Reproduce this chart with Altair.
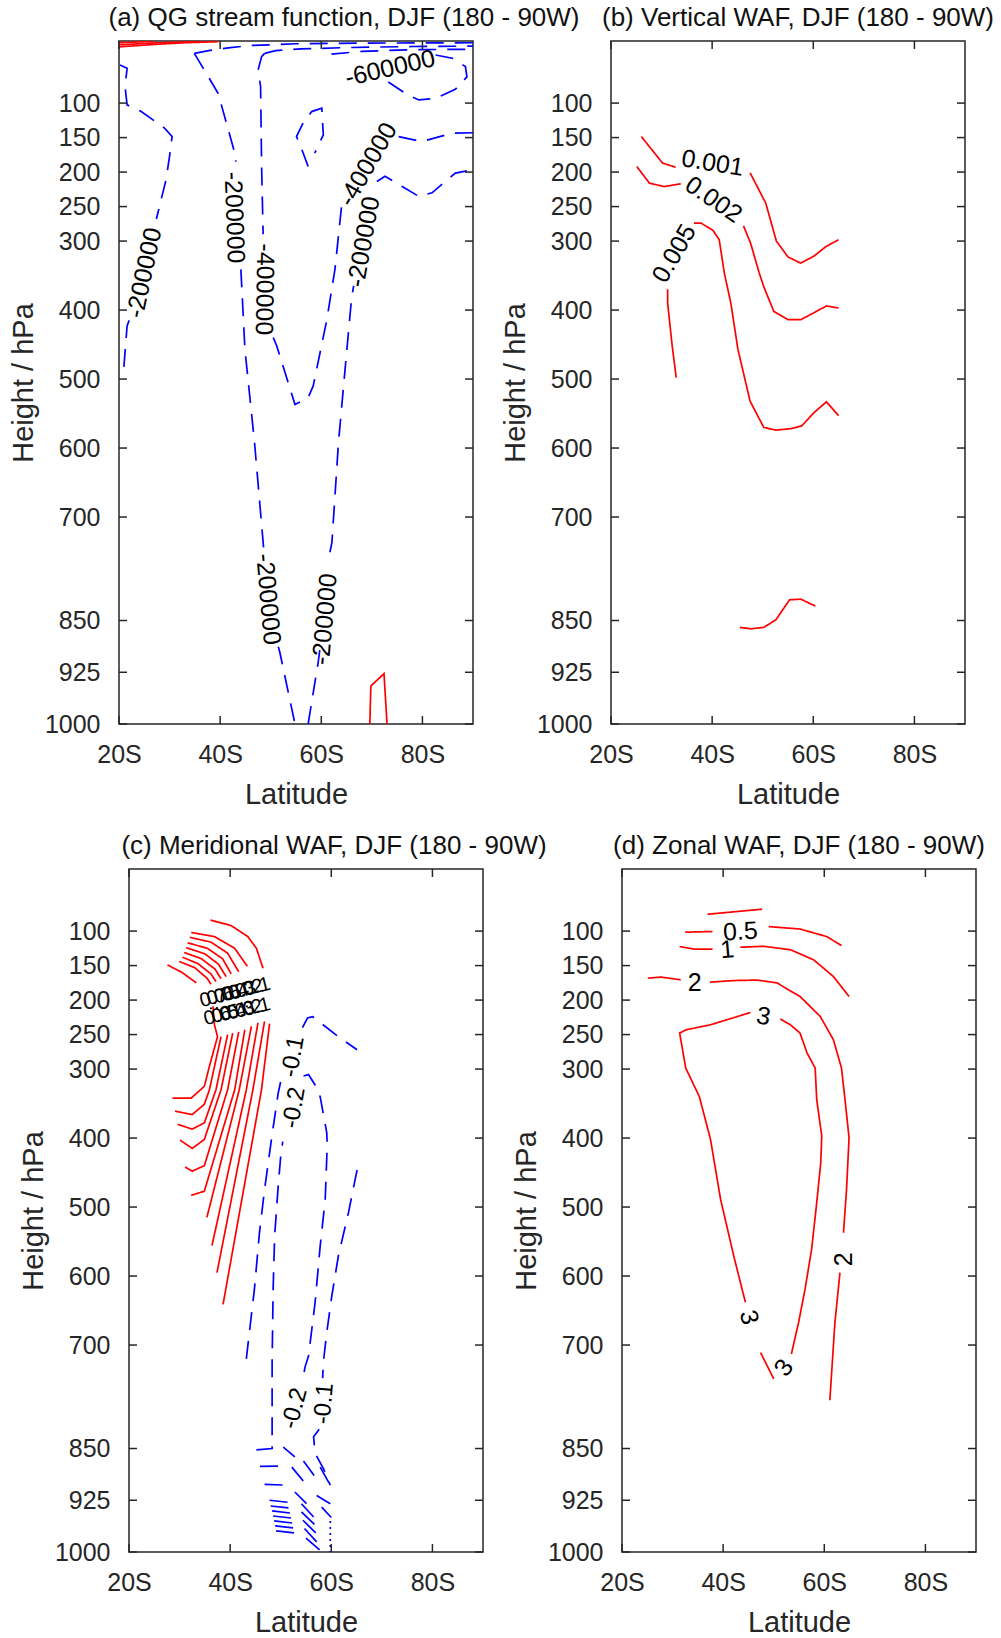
import altair as alt
import pandas as pd

FONT = "Liberation Sans"
AXC = "#262626"
RED = "#ff0000"
BLUE = "#0000ff"
BLACK = "#000000"

LAT_DOMAIN = [20, 90]
P_DOMAIN = [10, 1000]
LAT_TICKS = [20, 40, 60, 80]
P_TICKS = [100, 150, 200, 250, 300, 400, 500, 600, 700, 850, 925, 1000]

W, H = 354, 683

# ---------------- panel (a) QG stream function ----------------
a_red_top_1 = [(20.0, 18.5), (27.0, 15.0), (33.0, 12.5), (39.6, 11.0)]
a_red_top_2 = [(20.0, 15.5), (28.0, 12.5), (36.0, 10.8)]
a_red_top_3 = [(20.0, 12.5), (27.0, 10.5)]
a_red_bottom = [(69.6, 1000), (69.8, 945), (72.4, 927), (73.0, 1000)]
a_top_1 = [(34.9, 27.9), (38.0, 23.5), (42.0, 19.5), (46.2, 16.5), (55.0, 14.0), (70.0, 13.0), (90.0, 12.5)]
a_top_2 = [(48.8, 27.9), (51.0, 24.0), (56.0, 21.5), (65.0, 19.5), (78.0, 18.0), (90.0, 17.5)]
a_top_3 = [(62.0, 29.0), (68.0, 25.0), (78.0, 22.5), (90.0, 22.0)]
a_m200_left_1 = [(20.2, 44.7), (21.6, 49.5), (21.2, 76), (21.6, 102.6), (24.4, 112.3), (29.0, 136.3),
                 (30.5, 148.5), (30.0, 177), (29.3, 211), (27.7, 259), (27.4, 268)]
a_m200_left_2 = [(22.0, 415), (21.6, 423), (20.8, 498)]
a_m200_mid_1 = [(34.9, 27.9), (39.6, 85.7), (42.9, 172.6), (43.1, 185)]
a_m200_mid_2 = [(44.1, 341), (44.9, 457), (46.8, 592), (48.6, 745)]
a_m200_mid_3 = [(51.5, 888), (51.8, 896), (54.8, 1000)]
a_m400_mid_1 = [(48.8, 27.9), (48.2, 32.6), (47.5, 52), (48.0, 76), (48.2, 192), (48.5, 290)]
a_m400_mid_2 = [(50.5, 440), (51.2, 452), (54.8, 537), (57.4, 527), (58.4, 510), (61.1, 414),
                (62.7, 341), (64.0, 250), (64.5, 240)]
a_m400_right = [(75.3, 148.5), (79.9, 155.7), (85.9, 143.6), (90.0, 143.0)]
a_m200_right_1 = [(57.4, 1000), (59.4, 910), (59.7, 893)]
a_m200_right_2 = [(61.7, 751), (62.1, 737), (63.4, 592), (64.7, 486), (66.0, 382), (66.4, 365)]
a_m200_right_3 = [(71.0, 213.6), (72.6, 206), (76.0, 221), (79.3, 235.3), (81.9, 230), (86.5, 201.5), (90.0, 196.7)]
a_small_loop = [(57.4, 192), (56.4, 172), (55.1, 148.5), (56.4, 129), (58.1, 112.3), (60.1, 107.4),
                (60.4, 146), (58.7, 172.6)]
a_m600_loop = [(82.6, 30.3), (85.9, 35), (88.5, 47), (88.8, 62), (86.5, 80), (82.6, 93), (79.3, 95.4),
               (77.3, 89), (72.6, 66.4)]

a_lines = [
    (RED, "solid", a_red_top_1), (RED, "solid", a_red_top_2), (RED, "solid", a_red_top_3),
    (RED, "solid", a_red_bottom),
    (BLUE, "dash", a_top_1), (BLUE, "dash", a_top_2), (BLUE, "dash", a_top_3),
    (BLUE, "dash", a_m200_left_1), (BLUE, "dash", a_m200_left_2),
    (BLUE, "dash", a_m200_mid_1), (BLUE, "dash", a_m200_mid_2), (BLUE, "dash", a_m200_mid_3),
    (BLUE, "dash", a_m400_mid_1), (BLUE, "dash", a_m400_mid_2), (BLUE, "dash", a_m400_right),
    (BLUE, "dash", a_m200_right_1), (BLUE, "dash", a_m200_right_2), (BLUE, "dash", a_m200_right_3),
    (BLUE, "dash", a_small_loop), (BLUE, "dash", a_m600_loop),
]
a_labels = [
    ("-200000", 25.0, 346, 282, 25), ("-200000", 42.8, 266, 88, 25), ("-200000", 49.5, 819, 85, 25),
    ("-400000", 48.8, 370, 91, 25), ("-400000", 69.2, 189, 300, 25), ("-200000", 60.7, 848, 275, 25),
    ("-200000", 68.4, 301, 280, 25), ("-600000", 73.6, 49.5, 347, 25),
]

# ---------------- panel (b) vertical WAF ----------------
b_001_1 = [(26.0, 148.5), (30.2, 187), (32.8, 193)]
b_001_2 = [(47.5, 201), (50.6, 245), (52.7, 300), (55.0, 323), (57.5, 332), (60.1, 322), (62.5, 308), (65.0, 298)]
b_002_1 = [(25.1, 192), (27.6, 216), (30.5, 221), (33.8, 217)]
b_002_2 = [(46.2, 278), (47.6, 303), (49.3, 346), (50.2, 366), (52.2, 402), (55.0, 414), (57.5, 414),
           (60.1, 404), (62.6, 394), (65.0, 397)]
b_005_1 = [(32.9, 498), (32.1, 452), (31.2, 390), (31.2, 370)]
b_005_2 = [(36.4, 274), (37.8, 274), (40.1, 284), (41.4, 298), (42.4, 346), (43.7, 390), (45.1, 457),
           (47.5, 532), (50.2, 570), (52.6, 574), (55.5, 572), (57.7, 568), (60.1, 549), (62.6, 533), (65.0, 553)]
b_low = [(45.5, 860), (47.6, 862), (50.2, 860), (52.6, 849), (55.3, 820), (57.5, 819), (60.4, 829)]

b_lines = [(RED, "solid", s) for s in [b_001_1, b_001_2, b_002_1, b_002_2, b_005_1, b_005_2, b_low]]
b_labels = [("0.001", 40.1, 187, 9, 25), ("0.002", 40.3, 240, 34, 25), ("0.005", 32.5, 318, 300, 25)]

# ---------------- panel (c) meridional WAF ----------------
c_up_1 = [(36.1, 84), (40.2, 92), (43.5, 108), (45.2, 125), (46.5, 154)]
c_up_2 = [(32.3, 102), (36.9, 108), (40.9, 125), (43.4, 151)]
c_up_3 = [(32.0, 109), (36.2, 116), (39.5, 132), (41.7, 159)]
c_up_4 = [(31.6, 117), (35.5, 125), (38.5, 140), (40.2, 162)]
c_up_5 = [(31.3, 124), (35.0, 133), (37.7, 148), (39.2, 166)]
c_up_6 = [(30.9, 131), (34.3, 140), (37.0, 155), (38.2, 169)]
c_up_7 = [(30.6, 138), (33.6, 147), (36.2, 162), (37.2, 173)]
c_up_8 = [(29.9, 144), (33.0, 153), (35.4, 168), (36.2, 177)]
c_up_9 = [(27.6, 149), (30.5, 160), (33.3, 175)]
c_lo_1 = [(36.6, 209), (36.9, 236), (37.5, 253), (35.9, 296), (34.9, 325), (32.3, 342), (28.6, 342)]
c_lo_2 = [(38.2, 253), (35.9, 330), (34.9, 351), (32.5, 366), (29.1, 361)]
c_lo_3 = [(39.5, 250), (37.2, 330), (34.9, 378), (32.5, 387), (29.6, 380)]
c_lo_4 = [(40.5, 248), (38.2, 330), (34.9, 402), (32.5, 415), (30.1, 403)]
c_lo_5 = [(41.7, 246), (39.5, 330), (34.9, 440), (32.5, 448), (31.1, 442)]
c_lo_6 = [(42.9, 243), (40.9, 330), (34.9, 477), (32.3, 483)]
c_lo_7 = [(44.2, 238), (41.8, 330), (35.4, 515)]
c_lo_8 = [(45.5, 233), (43.2, 330), (36.4, 556)]
c_lo_9 = [(46.8, 231), (44.5, 330), (37.4, 595)]
c_lo_10 = [(47.8, 234), (46.2, 330), (38.6, 641)]
c_zero = [(36.0, 212), (43.5, 209)]
c_m01_outer_1 = [(43.2, 720), (44.8, 619), (45.8, 537), (46.8, 475), (48.2, 400), (49.5, 335), (50.0, 318)]
c_m01_outer_2 = [(54.3, 240), (55.3, 226), (56.3, 224), (61.4, 253), (65.1, 272)]
c_m02_left = [(45.2, 852), (48.3, 850), (48.3, 829), (48.3, 725), (48.5, 619), (48.8, 542), (49.5, 470),
              (50.0, 426), (50.4, 405)]
c_m02_top = [(54.5, 310), (55.5, 308), (56.8, 323), (57.8, 340), (59.1, 392), (59.2, 410), (58.8, 489),
             (57.8, 557), (56.8, 638), (55.5, 716), (54.8, 732), (54.3, 755)]
c_m02_low = [(50.5, 848), (52.8, 862)]
c_m01_right_1 = [(65.1, 446), (63.4, 508), (61.4, 571), (60.1, 629), (59.1, 682), (58.4, 727), (58.3, 748)]
c_m01_right_2 = [(57.6, 822), (56.5, 833), (56.8, 857), (58.5, 880), (59.8, 903)]
c_sfc_1 = [(45.9, 876), (49.8, 875.5)]
c_sfc_2 = [(46.8, 902), (50.8, 903)]
c_sfc_3 = [(52.2, 877), (55.1, 903)]
c_sfc_4 = [(54.5, 868), (56.8, 891)]
c_sfc_5 = [(57.8, 877), (59.8, 903)]
c_sfc_6 = [(52.8, 913), (55.1, 930)]
c_sfc_7 = [(54.1, 930), (57.1, 954)]
c_sfc_8 = [(54.1, 942), (57.5, 966)]
c_sfc_9 = [(54.4, 954), (57.7, 978)]
c_sfc_10 = [(54.7, 966), (57.7, 990)]
c_sfc_11 = [(55.0, 980), (58.0, 999)]
c_sfc_12 = [(57.1, 918), (59.8, 930)]
c_sfc_13 = [(58.1, 935), (60.0, 950)]
c_sfc_14 = [(59.8, 955), (59.8, 1000)]
c_row_1 = [(47.8, 925.0), (51.5, 928.0)]
c_row_2 = [(48.0, 933.3), (51.7, 936.3)]
c_row_3 = [(48.3, 940.5), (51.9, 943.5)]
c_row_4 = [(48.5, 947.8), (52.1, 950.8)]
c_row_5 = [(48.7, 955.0), (52.3, 958.0)]
c_row_6 = [(48.9, 962.2), (52.6, 965.2)]
c_row_7 = [(49.1, 969.5), (52.8, 972.5)]

c_lines = (
    [(RED, "solid", s) for s in [c_up_1, c_up_2, c_up_3, c_up_4, c_up_5, c_up_6, c_up_7, c_up_8, c_up_9,
                                 c_lo_1, c_lo_2, c_lo_3, c_lo_4, c_lo_5, c_lo_6, c_lo_7, c_lo_8, c_lo_9, c_lo_10]]
    + [(BLACK, "dot", c_zero)]
    + [(BLUE, "dash", s) for s in [c_m01_outer_1, c_m01_outer_2, c_m02_left, c_m02_top, c_m02_low,
                                   c_m01_right_1, c_m01_right_2, c_sfc_1, c_sfc_2, c_sfc_3, c_sfc_4, c_sfc_5,
                                   c_sfc_6, c_sfc_7, c_sfc_8, c_sfc_9, c_sfc_10, c_sfc_11, c_sfc_12, c_sfc_13,
                                   c_row_1, c_row_2, c_row_3, c_row_4, c_row_5, c_row_6, c_row_7]]
    + [(BLUE, "dot", c_sfc_14)]
)
c_cluster_upper = ["0.7", "0.6", "0.5", "0.4", "0.3", "0.2", "0.1"]
c_cluster_lower = ["0.6", "0.5", "0.4", "0.3", "0.2", "0.1"]
c_labels = (
    [("-0.1", 52.5, 282, 280, 24), ("-0.2", 52.7, 356, 280, 24),
     ("-0.2", 52.8, 792, 285, 24), ("-0.1", 58.6, 785, 275, 24)]
    + [(t, 36.7 + 1.42 * k, 197 - 2.7 * k, 346, 20) for k, t in enumerate(c_cluster_upper)]
    + [(t, 37.5 + 1.55 * k, 223 - 2.6 * k, 346, 20) for k, t in enumerate(c_cluster_lower)]
)

# ---------------- panel (d) zonal WAF ----------------
d_top = [(36.9, 75.6), (47.7, 68.3)]
d_05_1 = [(32.5, 101.6), (37.9, 100.6)]
d_05_2 = [(49.0, 93.5), (55.2, 97.0), (60.5, 108.0), (63.4, 121.0)]
d_1_1 = [(31.4, 122.4), (34.2, 126.0), (37.9, 126.0)]
d_1_2 = [(43.4, 123.4), (48.0, 122.0), (53.3, 127.0), (57.9, 141.7), (61.8, 165.8), (64.9, 194.8)]
d_2_1 = [(25.1, 168.2), (27.7, 166.7), (31.6, 170.6)]
d_2_2 = [(37.4, 174.0), (42.1, 171.7), (46.7, 171.0), (50.6, 175.0), (55.2, 194.8), (59.2, 223.7),
         (61.8, 257.5), (63.4, 298.5), (64.1, 344.3), (64.9, 399.8), (64.4, 474.5), (63.8, 537.3)]
d_2_3 = [(63.1, 595.0), (62.1, 667.5), (61.1, 780.0)]
d_3_1 = [(51.3, 227.5), (53.3, 235.8), (55.2, 247.8), (56.6, 276.8), (58.2, 298.5), (58.5, 344.0),
         (59.5, 397.0), (59.3, 436.0), (58.5, 494.0), (57.5, 561.0), (56.2, 619.0), (54.9, 668.0), (53.5, 713.0)]
d_3_2 = [(50.0, 749.0), (47.4, 711.0)]
d_3_3 = [(44.4, 638.0), (42.1, 571.0), (39.5, 489.0), (37.5, 402.0), (35.3, 340.0), (32.6, 298.5),
         (31.4, 247.8), (32.7, 243.0), (37.5, 235.8), (45.4, 218.0)]

d_lines = [(RED, "solid", s) for s in [d_top, d_05_1, d_05_2, d_1_1, d_1_2, d_2_1, d_2_2, d_2_3,
                                       d_3_1, d_3_2, d_3_3]]
d_labels = [("0.5", 43.4, 100.6, 357, 25), ("1", 40.8, 127, 355, 25), ("2", 34.4, 175.4, 0, 25),
            ("3", 48.0, 223.7, 10, 25), ("2", 63.8, 575.8, 270, 25), ("3", 45.1, 660, 75, 25),
            ("3", 52.0, 733, 306, 25)]

TITLES = [
    ("(a) QG stream function, DJF (180 - 90W)", 48),
    ("(b) Vertical WAF, DJF (180 - 90W)", 10),
    ("(c) Meridional WAF, DJF (180 - 90W)", 28),
    ("(d) Zonal WAF, DJF (180 - 90W)", 0),
]

DASHES = {"solid": [1, 0], "dash": [18, 11], "dot": [2, 4]}


def panel(title, dx, lines, labels):
    rows = []
    for k, (color, style, pts) in enumerate(lines):
        for i, (la, pp) in enumerate(pts):
            rows.append(dict(id=k, i=i, lat=la, p=pp, color=color, style=style))
    df = pd.DataFrame(rows)
    ldf = pd.DataFrame(labels, columns=["text", "lat", "p", "angle", "size"])
    xs = alt.Scale(domain=LAT_DOMAIN, nice=False, zero=False)
    ys = alt.Scale(domain=P_DOMAIN, reverse=True, nice=False, zero=False)
    xax = alt.Axis(values=LAT_TICKS, labelExpr="datum.value + 'S'", title="Latitude", labelFlush=False)
    yax = alt.Axis(values=P_TICKS, title="Height / hPa", format="d", labelFlush=False)
    X = lambda f: alt.X(f, scale=xs, axis=xax)
    Y = lambda f: alt.Y(f, scale=ys, axis=yax)

    line = alt.Chart(df).mark_line(clip=True, strokeWidth=1.7).encode(
        x=X("lat:Q"), y=Y("p:Q"),
        color=alt.Color("color:N", scale=None),
        strokeDash=alt.StrokeDash("style:N", scale=alt.Scale(domain=list(DASHES.keys()),
                                                              range=list(DASHES.values())), legend=None),
        detail="id:N",
        order="i:Q",
    )
    text = alt.Chart(ldf).mark_text(font=FONT, color=BLACK).encode(
        x=X("lat:Q"), y=Y("p:Q"),
        text="text:N",
        angle=alt.Angle("angle:Q", scale=None),
        size=alt.Size("size:Q", scale=None, legend=None),
    )
    ytd = alt.Chart(pd.DataFrame({"p": P_TICKS}))
    xtd = alt.Chart(pd.DataFrame({"lat": LAT_TICKS}))
    tick_style = dict(color=AXC, strokeWidth=1.5)
    lt = ytd.mark_rule(**tick_style).encode(y=Y("p:Q"), x=alt.value(0), x2=alt.value(8))
    rt = ytd.mark_rule(**tick_style).encode(y=Y("p:Q"), x=alt.value(W - 8), x2=alt.value(W))
    bt = xtd.mark_rule(**tick_style).encode(x=X("lat:Q"), y=alt.value(H - 8), y2=alt.value(H))
    tt = xtd.mark_rule(**tick_style).encode(x=X("lat:Q"), y=alt.value(0), y2=alt.value(8))
    return alt.layer(line, text, lt, rt, bt, tt).properties(
        width=W, height=H,
        title=alt.TitleParams(title, dx=dx, anchor="middle", frame="group"),
    )


pa = panel(TITLES[0][0], TITLES[0][1], a_lines, a_labels)
pb = panel(TITLES[1][0], TITLES[1][1], b_lines, b_labels)
pc = panel(TITLES[2][0], TITLES[2][1], c_lines, c_labels)
pd_ = panel(TITLES[3][0], TITLES[3][1], d_lines, d_labels)

spacer = alt.Chart(pd.DataFrame({"v": [0]})).mark_point(opacity=0).properties(
    width=1, height=1, view=alt.ViewBackground(strokeOpacity=0, strokeWidth=0))

row1 = alt.hconcat(pa, pb, spacing=138, bounds="flush")
row2 = alt.hconcat(spacer, alt.hconcat(pc, pd_, spacing=139, bounds="flush"), spacing=9, bounds="flush")

# nested concat groups count as zero height in a flush layout: spacing = offset between row tops
chart = alt.vconcat(row1, row2, spacing=828, bounds="flush").properties(
    padding={"left": 8, "top": 4, "right": 0, "bottom": 0}
).configure_view(stroke=AXC, strokeWidth=1.5).configure_axis(
    labelFont=FONT, titleFont=FONT, labelFontSize=25, titleFontSize=29,
    labelColor=AXC, titleColor=AXC, titleFontWeight="normal",
    ticks=False, tickSize=0, domain=False, grid=False,
).configure_axisX(labelPadding=18, titlePadding=13).configure_axisY(
    labelPadding=19, titlePadding=6
).configure_title(font=FONT, fontSize=26, fontWeight="normal", color="#111111", offset=9)

chart.save("out.html", embed_options={"renderer": "svg", "actions": False})
